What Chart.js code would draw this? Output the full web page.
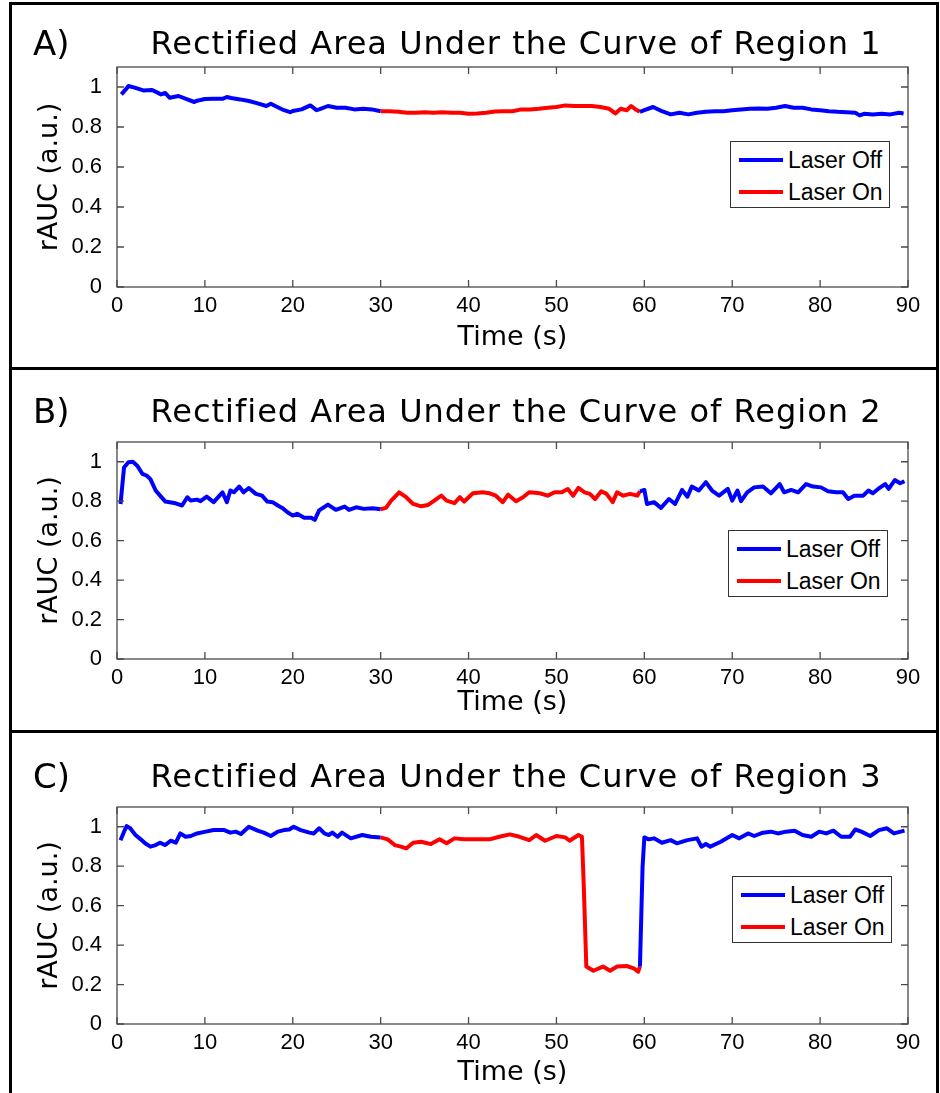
<!DOCTYPE html>
<html>
<head>
<meta charset="utf-8">
<title>Rectified Area Under the Curve</title>
<script src="https://cdn.jsdelivr.net/npm/chart.js@4.4.1/dist/chart.umd.min.js"></script>
<style>
    html, body { margin: 0; padding: 0; background: #fff; }
    #figure { position: relative; width: 940px; height: 1093px; background: #fff; overflow: hidden; }
    .rule { position: absolute; background: #000; }
    .panel-canvas { position: absolute; left: 0; }
    .letter { position: absolute; left: 33px; font-family: "DejaVu Sans", sans-serif; font-size: 34px; line-height: 40px; color: #000; }
    .title { position: absolute; left: 0; width: 1032px; text-align: center; font-family: "DejaVu Sans", sans-serif; font-size: 32px; letter-spacing: 1px; line-height: 40px; color: #000; white-space: nowrap; }
    .legend { position: absolute; width: 158px; height: 65px; border: 1px solid #333; background: #fff; font-family: "Liberation Sans", Arial, sans-serif; font-size: 23px; color: #000; }
    .legend-row { position: absolute; left: 8px; height: 28px; display: flex; align-items: center; }
    .legend-line { width: 44px; height: 4px; margin-right: 5px; }
</style>
</head>
<body>
<div id="figure"></div>
<script>
const xTicks = [0, 10, 20, 30, 40, 50, 60, 70, 80, 90];
const yTicks = [0, 0.2, 0.4, 0.6, 0.8, 1];
const legendLabels = ['Laser Off', 'Laser On'];
const panelLetters = ['A)', 'B)', 'C)'];
const panelTitles = [
    'Rectified Area Under the Curve of Region 1',
    'Rectified Area Under the Curve of Region 2',
    'Rectified Area Under the Curve of Region 3'
];
const laserOnStart = 30;
const laserOnEnd = 59.5;

const region1Time = [0.5, 1, 1.3, 2, 3, 4, 5, 5.5, 6, 7, 8, 8.8, 9, 10, 11, 12, 12.5, 13, 14, 15, 16, 17, 17.5, 18, 19, 19.7, 20, 21, 22, 22.7, 23, 24, 25, 26, 27, 28, 29, 30,
    31, 32, 33, 34, 35, 36, 37, 38, 39, 40, 41, 42, 43, 44, 45, 46, 47, 48, 49, 50, 51, 52, 53, 54, 55, 56, 56.7, 57.3, 58, 58.5, 59, 59.5,
    60, 61, 62, 63, 64, 65, 66, 67, 68, 69, 70, 71, 72, 73, 74, 75, 76, 77, 78, 79, 80, 81, 82, 83, 84, 84.5, 85, 86, 87, 88, 89, 89.5];
const region1Auc = [0.963, 0.988, 1.005, 0.997, 0.983, 0.985, 0.963, 0.97, 0.946, 0.955, 0.938, 0.925, 0.93, 0.94, 0.941, 0.941, 0.95, 0.945, 0.938, 0.93, 0.918, 0.905, 0.916, 0.905, 0.884, 0.874, 0.88, 0.888, 0.908, 0.884, 0.888, 0.905, 0.896, 0.896, 0.888, 0.891, 0.888, 0.879,
    0.879, 0.876, 0.871, 0.871, 0.874, 0.871, 0.874, 0.871, 0.871, 0.866, 0.868, 0.871, 0.877, 0.879, 0.879, 0.888, 0.888, 0.891, 0.896, 0.9, 0.908, 0.905, 0.905, 0.905, 0.9, 0.891, 0.868, 0.891, 0.884, 0.905, 0.888, 0.876,
    0.884, 0.9, 0.879, 0.863, 0.871, 0.863, 0.871, 0.876, 0.879, 0.879, 0.884, 0.888, 0.891, 0.893, 0.891, 0.896, 0.905, 0.896, 0.896, 0.888, 0.884, 0.879, 0.876, 0.874, 0.871, 0.858, 0.866, 0.863, 0.866, 0.863, 0.871, 0.868];

const region2Time = [0.4, 0.8, 1.3, 1.8, 2.3, 2.9, 3.4, 3.8, 4.4, 4.9, 5.5, 6.5, 7.4, 8.0, 8.4, 9.1, 9.5, 10.2, 11.0, 12.0, 12.5, 12.9, 13.3, 13.9, 14.4, 15.0, 15.8, 16.5, 17.1, 17.7, 18.3, 18.8, 19.4, 20.0, 20.5, 21.3, 22.1, 22.5, 23.0, 24.0, 24.9, 25.9, 26.4, 27.2, 28.1, 29.1, 30.0,
    30.6, 31.2, 32.1, 32.9, 33.7, 34.6, 35.4, 36.1, 36.9, 37.5, 38.4, 39.0, 39.5, 40.5, 41.6, 42.4, 43.1, 43.9, 44.5, 45.4, 46.2, 46.9, 48.1, 49.0, 49.8, 50.6, 51.3, 51.9, 52.5, 53.2, 53.8, 54.4, 55.1, 55.7, 56.4, 56.9, 57.6, 58.4, 59.2, 59.5,
    60.0, 60.3, 61.1, 61.9, 62.8, 63.5, 64.3, 64.9, 65.4, 66.2, 67.0, 67.7, 68.5, 69.5, 70.0, 70.6, 71.0, 71.7, 72.5, 73.5, 74.4, 75.4, 75.9, 76.7, 77.5, 78.4, 79.2, 80.1, 80.9, 81.8, 82.6, 83.2, 83.9, 84.9, 85.5, 86.0, 86.6, 87.4, 87.8, 88.5, 89.1, 89.6];
const region2Auc = [0.786, 0.971, 0.997, 1.0, 0.98, 0.938, 0.929, 0.912, 0.854, 0.828, 0.798, 0.791, 0.778, 0.82, 0.803, 0.808, 0.8, 0.823, 0.795, 0.845, 0.795, 0.854, 0.845, 0.874, 0.845, 0.867, 0.837, 0.828, 0.798, 0.795, 0.778, 0.766, 0.744, 0.727, 0.736, 0.716, 0.716, 0.705, 0.753, 0.783, 0.756, 0.773, 0.756, 0.769, 0.761, 0.764, 0.759,
    0.766, 0.803, 0.845, 0.82, 0.786, 0.774, 0.781, 0.803, 0.828, 0.803, 0.79, 0.82, 0.798, 0.84, 0.845, 0.84, 0.828, 0.795, 0.833, 0.8, 0.82, 0.845, 0.84, 0.828, 0.845, 0.845, 0.862, 0.828, 0.867, 0.845, 0.837, 0.811, 0.85, 0.837, 0.795, 0.845, 0.828, 0.837, 0.828, 0.85,
    0.857, 0.786, 0.795, 0.766, 0.811, 0.786, 0.857, 0.823, 0.874, 0.854, 0.896, 0.854, 0.828, 0.862, 0.803, 0.854, 0.8, 0.845, 0.87, 0.874, 0.84, 0.887, 0.845, 0.857, 0.845, 0.887, 0.874, 0.87, 0.85, 0.845, 0.845, 0.811, 0.828, 0.828, 0.854, 0.84, 0.862, 0.887, 0.862, 0.907, 0.891, 0.901];

const region3Time = [0.4, 0.8, 1.1, 1.5, 2.1, 2.7, 3.2, 3.8, 4.4, 4.9, 5.5, 6.1, 6.7, 7.2, 7.8, 8.4, 9.1, 10.1, 11.0, 12.2, 12.9, 13.5, 14.1, 15.0, 16.0, 16.7, 17.5, 18.3, 19.0, 19.6, 20.1, 20.9, 21.9, 22.4, 23.0, 23.6, 24.1, 24.5, 25.1, 25.6, 26.6, 27.9, 28.9, 30.0,
    30.8, 31.6, 32.3, 32.9, 33.7, 34.6, 35.7, 36.7, 37.5, 38.4, 39.5, 41.1, 42.4, 43.5, 44.7, 45.8, 46.9, 47.7, 48.7, 50.0, 51.0, 51.5, 52.5, 52.9, 53.1, 53.4, 54.2, 55.3, 56.1, 56.9, 58.0, 58.8, 59.3,
    59.5, 59.8, 60.0, 60.5, 61.1, 62.0, 63.0, 63.7, 64.9, 66.0, 66.5, 67.0, 67.5, 68.7, 70.0, 70.8, 71.8, 72.5, 73.5, 74.4, 75.2, 76.1, 77.1, 78.0, 79.0, 79.9, 80.7, 81.5, 82.4, 83.4, 84.0, 84.7, 85.7, 86.7, 87.6, 88.4, 89.6];
const region3Auc = [0.932, 0.975, 1.003, 0.992, 0.958, 0.936, 0.916, 0.899, 0.907, 0.919, 0.907, 0.929, 0.919, 0.966, 0.949, 0.953, 0.966, 0.975, 0.983, 0.983, 0.97, 0.975, 0.963, 1.0, 0.98, 0.97, 0.953, 0.975, 0.983, 0.986, 1.0, 0.983, 0.97, 0.966, 0.992, 0.966, 0.958, 0.97, 0.949, 0.97, 0.941, 0.958, 0.949, 0.946,
    0.936, 0.907, 0.899, 0.89, 0.919, 0.924, 0.912, 0.936, 0.916, 0.941, 0.936, 0.936, 0.936, 0.949, 0.961, 0.949, 0.932, 0.958, 0.929, 0.953, 0.946, 0.929, 0.958, 0.949, 0.713, 0.291, 0.27, 0.291, 0.27, 0.291, 0.294, 0.282, 0.265,
    0.291, 0.797, 0.946, 0.936, 0.941, 0.919, 0.932, 0.916, 0.932, 0.941, 0.899, 0.912, 0.899, 0.924, 0.958, 0.941, 0.966, 0.953, 0.97, 0.975, 0.966, 0.975, 0.98, 0.958, 0.949, 0.975, 0.966, 0.98, 0.949, 0.949, 0.986, 0.975, 0.953, 0.983, 0.992, 0.966, 0.98];

const offColor = '#0000ff';
const onColor = '#ff0000';

// panel placement in the figure
const panels = [
    { time: region1Time, auc: region1Auc, top: 0, height: 368, plotTop: 67, plotBottom: 287, titleY: 43, xLabelY: 338, legend: [730, 141] },
    { time: region2Time, auc: region2Auc, top: 368, height: 363, plotTop: 74, plotBottom: 291, titleY: 43, xLabelY: 335, legend: [728, 530] },
    { time: region3Time, auc: region3Auc, top: 731, height: 362, plotTop: 76, plotBottom: 293, titleY: 45, xLabelY: 342, legend: [732, 876] }
];

// MATLAB style box with ticks pointing inward on all four sides
const matlabBox = {
    id: 'matlabBox',
    afterDatasetsDraw(chart) {
        const { ctx, chartArea: a, scales } = chart;
        const len = 7;
        ctx.save();
        ctx.strokeStyle = '#4a4a4a';
        ctx.lineWidth = 1.3;
        ctx.strokeRect(a.left, a.top, a.right - a.left, a.bottom - a.top);
        ctx.beginPath();
        scales.x.ticks.forEach(t => {
            const px = scales.x.getPixelForValue(t.value);
            ctx.moveTo(px, a.bottom); ctx.lineTo(px, a.bottom - len);
            ctx.moveTo(px, a.top); ctx.lineTo(px, a.top + len);
        });
        scales.y.ticks.forEach(t => {
            const py = scales.y.getPixelForValue(t.value);
            ctx.moveTo(a.left, py); ctx.lineTo(a.left + len, py);
            ctx.moveTo(a.right, py); ctx.lineTo(a.right - len, py);
        });
        ctx.stroke();
        ctx.restore();
    }
};

const figure = document.getElementById('figure');

function addRule(left, top, width, height) {
    const d = document.createElement('div');
    d.className = 'rule';
    d.style.left = left + 'px';
    d.style.top = top + 'px';
    d.style.width = width + 'px';
    d.style.height = height + 'px';
    figure.appendChild(d);
}

panels.forEach((p, i) => {
    const canvas = document.createElement('canvas');
    canvas.className = 'panel-canvas';
    canvas.width = 940;
    canvas.height = p.height;
    canvas.style.top = p.top + 'px';
    canvas.style.width = '940px';
    canvas.style.height = p.height + 'px';
    figure.appendChild(canvas);

    // letter and title
    const letter = document.createElement('div');
    letter.className = 'letter';
    letter.textContent = panelLetters[i];
    letter.style.top = (p.top + p.titleY - 20) + 'px';
    figure.appendChild(letter);

    const title = document.createElement('div');
    title.className = 'title';
    title.textContent = panelTitles[i];
    title.style.top = (p.top + p.titleY - 20) + 'px';
    figure.appendChild(title);

    // legend
    const legend = document.createElement('div');
    legend.className = 'legend';
    legend.style.left = p.legend[0] + 'px';
    legend.style.top = p.legend[1] + 'px';
    [offColor, onColor].forEach((c, k) => {
        const row = document.createElement('div');
        row.className = 'legend-row';
        row.style.top = (4 + k * 32) + 'px';
        const line = document.createElement('span');
        line.className = 'legend-line';
        line.style.background = c;
        const txt = document.createElement('span');
        txt.textContent = legendLabels[k];
        row.appendChild(line);
        row.appendChild(txt);
        legend.appendChild(row);
    });
    figure.appendChild(legend);

    const points = p.time.map((t, k) => ({ x: t, y: p.auc[k] }));
    const isOn = ctx => ctx.p0.parsed.x >= laserOnStart && ctx.p1.parsed.x <= laserOnEnd;
    const tickFont = { family: '"Liberation Sans", Arial, sans-serif', size: 22 };
    const titleFont = { family: '"DejaVu Sans", Verdana, sans-serif', size: 27 };

    new Chart(canvas, {
        type: 'line',
        data: {
            datasets: [{
                label: 'rAUC',
                data: points,
                borderColor: offColor,
                borderWidth: 4,
                borderJoinStyle: 'round',
                pointRadius: 0,
                tension: 0,
                segment: {
                    borderColor: ctx => isOn(ctx) ? onColor : offColor
                }
            }]
        },
        options: {
            responsive: false,
            animation: false,
            devicePixelRatio: 1,
            layout: { padding: { top: p.plotTop, right: 32, bottom: 0, left: 0 } },
            plugins: {
                legend: { display: false },
                tooltip: { enabled: false }
            },
            scales: {
                x: {
                    type: 'linear',
                    min: 0,
                    max: 90,
                    afterBuildTicks: s => { s.ticks = xTicks.map(v => ({ value: v })); },
                    afterFit: s => { s.height = p.height - p.plotBottom; },
                    grid: { display: false },
                    border: { display: false },
                    ticks: { color: '#000', font: tickFont, padding: -2, maxRotation: 0, autoSkip: false, callback: v => String(v) },
                    title: { display: true, text: 'Time (s)', color: '#000', font: titleFont, padding: { top: 0, bottom: p.height - p.xLabelY - 16.2 } }
                },
                y: {
                    min: 0,
                    max: 1.1,
                    afterBuildTicks: s => { s.ticks = yTicks.map(v => ({ value: v })); },
                    afterFit: s => { s.width = 117; },
                    grid: { display: false },
                    border: { display: false },
                    ticks: { color: '#000', font: tickFont, padding: 7, callback: v => String(v) },
                    title: { display: true, text: 'rAUC (a.u.)', color: '#000', font: titleFont, padding: { top: 34, bottom: 0 } }
                }
            }
        },
        plugins: [matlabBox]
    });
});

// outer frame and panel dividers
addRule(9, 2, 930, 3);
addRule(9, 2, 3, 1091);
addRule(936, 2, 3, 1091);
addRule(9, 367, 930, 3);
addRule(9, 730, 930, 3);
</script>
</body>
</html>
